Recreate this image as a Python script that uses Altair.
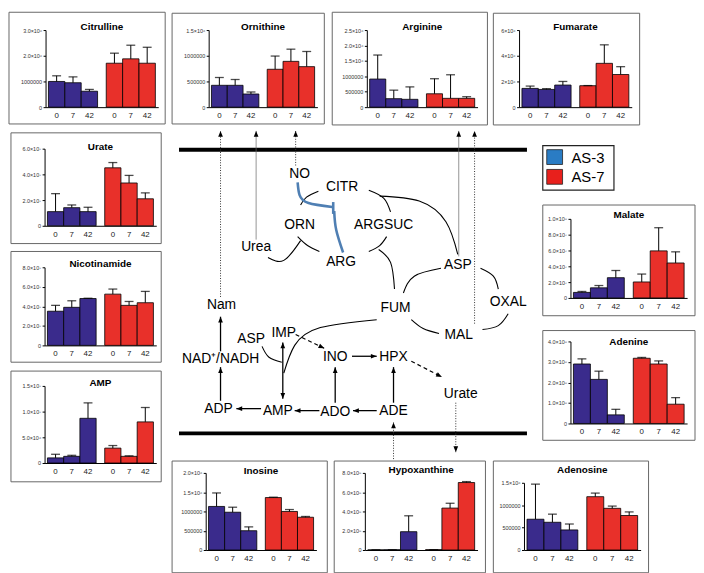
import altair as alt
import pandas as pd

# ---------------- data ----------------
days = ["0", "7", "42"]
groups = ["AS-3", "AS-7"]

# bar heights (AS-3 day 0,7,42 then AS-7 day 0,7,42) and top of error bars
citrulline_mean = [1.00e6, 0.95e6, 0.62e6, 1.71e6, 1.88e6, 1.71e6]
citrulline_upper = [1.22e6, 1.18e6, 0.69e6, 2.10e6, 2.41e6, 2.33e6]
ornithine_mean = [425e3, 425e3, 256e3, 737e3, 891e3, 788e3]
ornithine_upper = [577e3, 538e3, 295e3, 994e3, 1128e3, 1083e3]
arginine_mean = [911e3, 275e3, 254e3, 434e3, 286e3, 286e3]
arginine_upper = [1690e3, 551e3, 657e3, 922e3, 1050e3, 339e3]
fumarate_mean = [1.46e6, 1.38e6, 1.72e6, 1.67e6, 3.41e6, 2.54e6]
fumarate_upper = [1.64e6, 1.44e6, 2.00e6, 1.68e6, 4.85e6, 3.15e6]
urate_mean = [1.10e7, 1.41e7, 1.10e7, 4.51e7, 3.33e7, 2.10e7]
urate_upper = [2.50e7, 1.62e7, 1.44e7, 4.92e7, 3.92e7, 2.56e7]
nicotinamide_mean = [3.50e7, 3.90e7, 4.80e7, 5.25e7, 4.10e7, 4.37e7]
nicotinamide_upper = [4.10e7, 4.57e7, 4.83e7, 5.77e7, 4.50e7, 5.53e7]
amp_mean = [1.0e6, 1.3e6, 8.7e6, 2.9e6, 1.3e6, 8.0e6]
amp_upper = [1.7e6, 1.5e6, 1.17e7, 3.4e6, 1.4e6, 1.08e7]
malate_mean = [0.70e7, 1.28e7, 2.56e7, 2.02e7, 5.95e7, 4.42e7]
malate_upper = [0.82e7, 1.57e7, 3.47e7, 3.02e7, 8.88e7, 5.83e7]
adenine_mean = [2.90e8, 2.15e8, 0.42e8, 3.18e8, 2.90e8, 0.94e8]
adenine_upper = [3.15e8, 2.55e8, 0.69e8, 3.22e8, 3.05e8, 1.26e8]
inosine_mean = [1.13e6, 0.98e6, 0.50e6, 1.36e6, 1.00e6, 0.85e6]
inosine_upper = [1.48e6, 1.11e6, 0.60e6, 1.37e6, 1.05e6, 0.87e6]
hypoxanthine_mean = [0.01e8, 0.02e8, 1.90e8, 0.03e8, 4.35e8, 7.00e8]
hypoxanthine_upper = [0.02e8, 0.03e8, 3.55e8, 0.04e8, 4.85e8, 7.10e8]
adenosine_mean = [687e3, 619e3, 448e3, 1190e3, 930e3, 770e3]
adenosine_upper = [1470e3, 800e3, 580e3, 1270e3, 980e3, 850e3]

# axis ticks and their printed labels
citrulline_ticks = [0, 1e6, 2e6, 3e6]
citrulline_labels = ["0", "1000000", "2.0×10⁶", "3.0×10⁶"]
ornithine_ticks = [0, 5e5, 1e6, 1.5e6]
ornithine_labels = ["0", "500000", "1000000", "1.5×10⁶"]
arginine_ticks = [0, 5e5, 1e6, 1.5e6, 2e6, 2.5e6]
arginine_labels = ["0", "500000", "1000000", "1.5×10⁶", "2.0×10⁶", "2.5×10⁶"]
fumarate_ticks = [0, 2e6, 4e6, 6e6]
fumarate_labels = ["0", "2×10⁶", "4×10⁶", "6×10⁶"]
urate_ticks = [0, 2e7, 4e7, 6e7]
urate_labels = ["0", "2.0×10⁷", "4.0×10⁷", "6.0×10⁷"]
nicotinamide_ticks = [0, 2e7, 4e7, 6e7, 8e7]
nicotinamide_labels = ["0", "2.0×10⁷", "4.0×10⁷", "6.0×10⁷", "8.0×10⁷"]
amp_ticks = [0, 5e6, 1e7, 1.5e7]
amp_labels = ["0", "5.0×10⁶", "1.0×10⁷", "1.5×10⁷"]
malate_ticks = [0, 2e7, 4e7, 6e7, 8e7, 1e8]
malate_labels = ["0", "2.0×10⁷", "4.0×10⁷", "6.0×10⁷", "8.0×10⁷", "1.0×10⁸"]
adenine_ticks = [0, 1e8, 2e8, 3e8, 4e8]
adenine_labels = ["0", "1.0×10⁸", "2.0×10⁸", "3.0×10⁸", "4.0×10⁸"]
inosine_ticks = [0, 5e5, 1e6, 1.5e6, 2e6]
inosine_labels = ["0", "500000", "1000000", "1.5×10⁶", "2.0×10⁶"]
hypoxanthine_ticks = [0, 2e8, 4e8, 6e8, 8e8]
hypoxanthine_labels = ["0", "2.0×10⁸", "4.0×10⁸", "6.0×10⁸", "8.0×10⁸"]
adenosine_ticks = [0, 5e5, 1e6, 1.5e6]
adenosine_labels = ["0", "500000", "1000000", "1.5×10⁶"]

legend_labels = ["AS-3", "AS-7"]

# pathway diagram labels
node_labels = ["NO", "CITR", "ORN", "ARGSUC", "Urea", "ARG", "ASP", "OXAL",
               "Nam", "FUM", "MAL", "ASP", "IMP", "NAD⁺/NADH", "INO", "HPX",
               "Urate", "ADP", "AMP", "ADO", "ADE"]

# ---------------- layout & style ----------------
OFF = 8
W, H = 688, 557
BAR_COLORS = ["#3a2b8c", "#e8302a"]
LEGEND_COLORS = ["#2a7cc4", "#e8201c"]
FONT = "Liberation Sans"

node_x = [297, 340, 297, 382, 253, 339, 457, 508, 218, 394, 458, 248, 281, 217,
          333, 392, 460, 215, 275, 333, 392]
node_y = [167, 180, 218, 218, 241, 256, 259, 296, 299, 302, 330, 334, 328, 354,
          352, 352, 389, 404, 406, 407, 406]

LAYOUT = {
    "Citrulline":   dict(box=(3, 3, 161, 116), axis=40, right=154, base=99, top=21, ty=18),
    "Ornithine":    dict(box=(168, 4, 322, 116), axis=205, right=315, base=99, top=21, ty=18),
    "Arginine":     dict(box=(330, 3, 487, 117), axis=365, right=477, base=99, top=21, ty=18),
    "Fumarate":     dict(box=(493, 4, 641, 117), axis=519, right=633, base=99, top=21, ty=18),
    "Urate":        dict(box=(5, 125, 157, 237), axis=39, right=152, base=219, top=141, ty=139),
    "Nicotinamide": dict(box=(5, 245, 157, 357), axis=39, right=152, base=340, top=261, ty=258),
    "AMP":          dict(box=(5, 366, 157, 478), axis=39, right=152, base=459, top=381, ty=378),
    "Malate":       dict(box=(543, 198, 697, 310), axis=571, right=689, base=292, top=212, ty=208),
    "Adenine":      dict(box=(543, 325, 697, 436), axis=571, right=689, base=419, top=336, ty=337),
    "Inosine":      dict(box=(168, 457, 325, 570), axis=202, right=314, base=547, top=469, ty=467),
    "Hypoxanthine": dict(box=(332, 457, 485, 570), axis=363, right=477, base=547, top=469, ty=466),
    "Adenosine":    dict(box=(493, 457, 650, 570), axis=524, right=642, base=547, top=479, ty=466),
}

PANELS = [
    ("Citrulline", citrulline_mean, citrulline_upper, citrulline_ticks, citrulline_labels),
    ("Ornithine", ornithine_mean, ornithine_upper, ornithine_ticks, ornithine_labels),
    ("Arginine", arginine_mean, arginine_upper, arginine_ticks, arginine_labels),
    ("Fumarate", fumarate_mean, fumarate_upper, fumarate_ticks, fumarate_labels),
    ("Urate", urate_mean, urate_upper, urate_ticks, urate_labels),
    ("Nicotinamide", nicotinamide_mean, nicotinamide_upper, nicotinamide_ticks, nicotinamide_labels),
    ("AMP", amp_mean, amp_upper, amp_ticks, amp_labels),
    ("Malate", malate_mean, malate_upper, malate_ticks, malate_labels),
    ("Adenine", adenine_mean, adenine_upper, adenine_ticks, adenine_labels),
    ("Inosine", inosine_mean, inosine_upper, inosine_ticks, inosine_labels),
    ("Hypoxanthine", hypoxanthine_mean, hypoxanthine_upper, hypoxanthine_ticks, hypoxanthine_labels),
    ("Adenosine", adenosine_mean, adenosine_upper, adenosine_ticks, adenosine_labels),
]


def label_expr(ticks, labels):
    expr = "''"
    for v, lab in reversed(list(zip(ticks, labels))):
        expr = f"(datum.value == {float(v)!r} ? '{lab}' : {expr})"
    return expr


def single():
    return alt.Chart(alt.Data(values=[{"k": 1}]))


def build_panel(name, mean, upper, ticks, tick_labels):
    L = LAYOUT[name]
    bx0, by0, bx1, by1 = L["box"]
    df = pd.DataFrame({
        "group": [groups[i // 3] for i in range(6)],
        "day": [days[i % 3] for i in range(6)],
        "mean": mean,
        "upper": upper,
    })
    xs = alt.Scale(domain=groups, range=[L["axis"] - OFF, L["right"] - OFF],
                   paddingInner=0.15, paddingOuter=0.05)
    ys = alt.Scale(domain=[0, ticks[-1]], range=[L["base"] - OFF, L["top"] - OFF],
                   nice=False, zero=False)
    xo = alt.Scale(domain=days, paddingInner=0, paddingOuter=0)
    xaxis = alt.Axis(orient="bottom", offset=(L["base"] - OFF) - H, labels=False,
                     ticks=False, domain=True, domainColor="black", domainWidth=1,
                     title=None, grid=False)
    yaxis = alt.Axis(orient="left", offset=-(L["axis"] - OFF), values=ticks,
                     labelExpr=label_expr(ticks, tick_labels), labelFontSize=5.5,
                     labelColor="#333333", labelPadding=1.5, tickSize=2.5,
                     tickColor="black", domainColor="black", domainWidth=1,
                     title=None, grid=False, labelFont=FONT)
    X = alt.X("group:N", scale=xs, axis=xaxis)
    XO = alt.XOffset("day:N", scale=xo)
    base = alt.Chart(df)

    border = single().mark_rect(fillOpacity=0, stroke="#666666", strokeWidth=1).encode(
        x=alt.value(bx0 - OFF), x2=alt.value(bx1 - OFF),
        y=alt.value(by0 - OFF), y2=alt.value(by1 - OFF))
    bars = base.mark_bar(stroke="black", strokeWidth=0.8).encode(
        x=X, xOffset=XO,
        y=alt.Y("mean:Q", scale=ys, axis=yaxis),
        color=alt.Color("group:N", scale=alt.Scale(domain=groups, range=BAR_COLORS), legend=None),
    )
    whisk = base.mark_rule(color="black", strokeWidth=1).encode(
        x=X, xOffset=XO, y=alt.Y("mean:Q", scale=ys, axis=yaxis), y2="upper:Q")
    caps = base.mark_tick(color="black", thickness=1.3, size=9, orient="horizontal").encode(
        x=X, xOffset=XO, y=alt.Y("upper:Q", scale=ys, axis=yaxis))
    daylab = base.mark_text(dy=9, fontSize=8, color="#222222", font=FONT).encode(
        x=X, xOffset=XO, y=alt.YDatum(0, scale=ys, axis=yaxis), text="day:N")
    title = single().mark_text(text=name, fontSize=10, fontWeight="bold", font=FONT,
                               color="black").encode(
        x=alt.value((L["axis"] + L["right"]) / 2 - OFF), y=alt.value(L["ty"] - OFF))
    return alt.layer(border, bars, whisk, caps, daylab, title)


# ---------------- diagram ----------------
DX = alt.Scale(domain=[8, 696], range=[0, 688], nice=False, zero=False)
DY = alt.Scale(domain=[8, 565], range=[0, 557], nice=False, zero=False)


def ex(f="x"):
    return alt.X(f"{f}:Q", scale=DX, axis=None)


def ey(f="y"):
    return alt.Y(f"{f}:Q", scale=DY, axis=None)


membranes = pd.DataFrame({"x": [175, 175], "x2": [527, 527], "y": [142, 429]})

arrows = [
    (217, 346, 217, 311, "solid", "end"),
    (217, 396, 217, 362, "solid", "end"),
    (258, 404, 233, 404, "solid", "end"),
    (317, 406, 292, 406, "solid", "end"),
    (375, 406, 351, 406, "solid", "end"),
    (333, 398, 333, 362, "solid", "end"),
    (392, 398, 392, 362, "solid", "end"),
    (350, 351, 375, 351, "solid", "end"),
    (280, 337, 280, 394, "solid", "both"),
    (293, 329, 322, 343, "dashed", "end"),
    (410, 356, 441, 372, "dashed", "end"),
    (392, 455, 392, 418, "dotted", "end"),
    (455, 398, 455, 448, "dotted", "end"),
    (217, 291, 217, 123, "dotted", "end"),
    (253, 233, 253, 123, "thin", "end"),
    (293, 158, 293, 123, "dotted", "end"),
    (458, 250, 458, 123, "thin", "end"),
    (474, 318, 474, 123, "dotted", "end"),
]
arrows_df = pd.DataFrame(arrows, columns=["x", "y", "x2", "y2", "style", "head"])
heads = []
for x1, y1, x2, y2, st, hd in arrows:
    heads.append({"x": x2, "y": y2, "dx": x2 - x1, "dy": y2 - y1})
    if hd == "both":
        heads.append({"x": x1, "y": y1, "dx": x1 - x2, "dy": y1 - y2})
heads_df = pd.DataFrame(heads)

curves = {
    "orn_citr": [(298, 198), (304, 190), (316, 184)],
    "citr_argsuc": [(367, 183), (382, 191), (389, 205)],
    "argsuc_arg": [(385, 230), (378, 239), (367, 245)],
    "orn_arg": [(295, 230), (305, 239), (317, 245)],
    "urea": [(265, 251), (281, 254), (298, 234)],
    "citr_asp": [(378, 189), (418, 194), (445, 215), (457, 248)],
    "arg_fum": [(377, 243), (389, 256), (393, 283)],
    "asp_fum": [(402, 287), (413, 270), (440, 262)],
    "asp_oxal": [(480, 262), (493, 270), (498, 283)],
    "fum_mal": [(410, 314), (422, 323), (438, 328)],
    "mal_oxal": [(482, 324), (498, 320), (508, 308)],
    "fum_amp": [(375, 314), (318, 322), (292, 340), (281, 368)],
    "asp_amp": [(259, 341), (266, 352), (279, 357)],
}
blue_curves = {
    "no_t": [(295, 175), (297, 188), (306, 196), (330, 200)],
    "tbar": [(331, 195), (331, 207)],
    "t_arg": [(332, 204), (334, 223), (341, 246)],
}


def curve_df(cs):
    rows = []
    for cid, pts in cs.items():
        for i, (x, y) in enumerate(pts):
            rows.append({"id": cid, "i": i, "x": x, "y": y})
    return pd.DataFrame(rows)


LINE_STYLES = {
    "solid": dict(color="black", strokeWidth=1.3),
    "dashed": dict(color="black", strokeWidth=1.2, strokeDash=[4, 3]),
    "dotted": dict(color="#333333", strokeWidth=1, strokeDash=[1, 1.6]),
    "thin": dict(color="#666666", strokeWidth=0.7),
}

diag_layers = [
    alt.Chart(membranes).mark_rule(color="black", strokeWidth=4).encode(
        x=ex(), x2="x2:Q", y=ey()),
]
for st, props in LINE_STYLES.items():
    diag_layers.append(
        alt.Chart(arrows_df).transform_filter(alt.datum.style == st).mark_rule(**props).encode(
            x=ex(), y=ey(), x2="x2:Q", y2="y2:Q"))
diag_layers.append(
    alt.Chart(heads_df).transform_calculate(
        ang="(atan2(datum.dx, -datum.dy) * 180 / PI + 360) % 360"
    ).mark_point(shape="M0,0L-0.5,1.25L0.5,1.25Z", filled=True, color="black",
                 opacity=1, size=90, strokeWidth=0).encode(
        x=ex(), y=ey(), angle=alt.Angle("ang:Q", scale=None)))
diag_layers.append(
    alt.Chart(curve_df(curves)).mark_line(interpolate="natural", color="black",
                                         strokeWidth=1.1).encode(
        x=ex(), y=ey(), detail="id:N", order="i:Q"))
diag_layers.append(
    alt.Chart(curve_df(blue_curves)).mark_line(interpolate="natural", color="#4f7fb3",
                                              strokeWidth=2.6).encode(
        x=ex(), y=ey(), detail="id:N", order="i:Q"))
nodes_df = pd.DataFrame({"label": node_labels, "x": node_x, "y": node_y})
diag_layers.append(
    alt.Chart(nodes_df).mark_text(fontSize=14, font=FONT, color="black").encode(
        x=ex(), y=ey(), text="label:N"))

# legend
diag_layers.append(
    single().mark_rect(fillOpacity=0, stroke="#222222", strokeWidth=1.2).encode(
        x=alt.value(543 - OFF), x2=alt.value(615 - OFF),
        y=alt.value(138 - OFF), y2=alt.value(183 - OFF)))
for i, (lab, col) in enumerate(zip(legend_labels, LEGEND_COLORS)):
    top = 142 + 20 * i
    diag_layers.append(
        single().mark_rect(color=col, stroke="#222222", strokeWidth=0.8).encode(
            x=alt.value(547 - OFF), x2=alt.value(563 - OFF),
            y=alt.value(top - OFF), y2=alt.value(top + 15 - OFF)))
    diag_layers.append(
        single().mark_text(text=lab, fontSize=15, font=FONT, color="black",
                           align="left").encode(
            x=alt.value(572 - OFF), y=alt.value(top + 8 - OFF)))

diagram = alt.layer(*diag_layers)

panels = [build_panel(*p) for p in PANELS]

chart = alt.layer(diagram, *panels).resolve_scale(
    x="independent", y="independent", xOffset="independent"
).properties(width=W, height=H, padding=0).configure(font=FONT).configure_view(
    strokeWidth=0).configure_axis(grid=False)

chart.save("out.html", embed_options={"renderer": "svg", "actions": False})
